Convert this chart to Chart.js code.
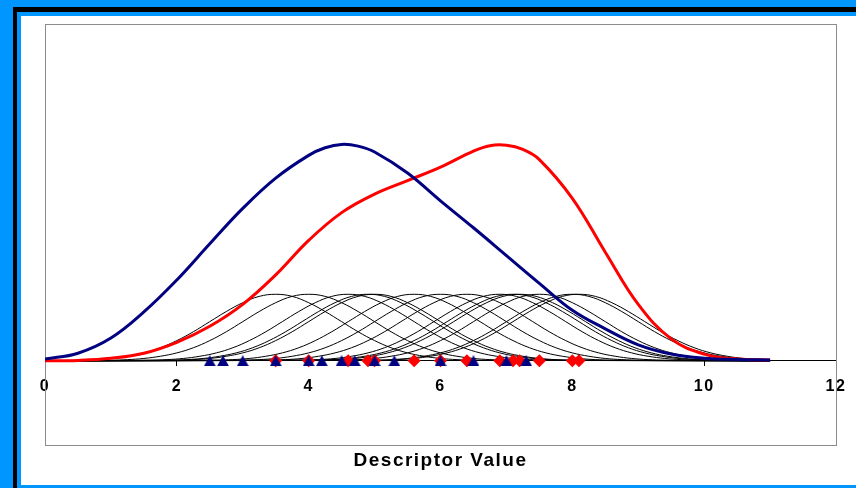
<!DOCTYPE html>
<html>
<head>
<meta charset="utf-8">
<script src="https://cdn.jsdelivr.net/npm/chart.js@4/dist/chart.umd.min.js"></script>
<style>
  html, body { margin: 0; padding: 0; }
  body { width: 856px; height: 488px; overflow: hidden; position: relative; background: #0096FF; }
  .edge  { position: absolute; left: 13px; top: 7px;  width: 1000px; height: 1000px; background: #000; }
  .band  { position: absolute; left: 17px; top: 12px; width: 1000px; height: 1000px; background: #0096FF; }
  .sheet { position: absolute; left: 21px; top: 16px; width: 835px; height: 469px; background: #fff; }
  canvas { display: block; }
</style>
</head>
<body>
<div class="edge"></div>
<div class="band"></div>
<div class="sheet"><canvas id="kde" width="835" height="469"></canvas></div>
<script>
// Summed density curves (x positions and heights)
const blueX       = [0, 0.5, 1, 1.5, 2, 2.5, 3, 3.5, 4, 4.25, 4.5, 4.75, 5, 5.5, 6, 6.5, 7, 7.5, 8, 8.5, 9, 9.5, 10, 10.5, 11];
const blueDensity = [0.02, 0.09, 0.27, 0.58, 0.96, 1.39, 1.81, 2.17, 2.44, 2.53, 2.57, 2.55, 2.48, 2.23, 1.90, 1.58, 1.25, 0.92, 0.60, 0.38, 0.19, 0.08, 0.03, 0.015, 0.01];
const redX        = [0, 0.5, 1, 1.5, 2, 2.5, 3, 3.5, 4, 4.5, 5, 5.5, 6, 6.5, 6.75, 7, 7.25, 7.5, 8, 8.5, 9, 9.5, 10, 10.5, 11];
const redDensity  = [0.00, 0.005, 0.03, 0.09, 0.22, 0.41, 0.67, 1.02, 1.43, 1.76, 1.98, 2.14, 2.30, 2.49, 2.555, 2.56, 2.51, 2.39, 1.93, 1.29, 0.67, 0.26, 0.08, 0.02, 0.01];

// Observed descriptor values
const blueValues = [2.5, 2.7, 3.0, 3.5, 4.0, 4.2, 4.5, 4.7, 5.0, 5.3, 6.0, 6.5, 7.0, 7.3];
const redValues  = [3.5, 4.0, 4.6, 4.9, 5.0, 5.6, 6.0, 6.4, 6.9, 7.1, 7.2, 7.5, 8.0, 8.1];

// Height of one kernel bump at a distance from its centre
const kernelOffsets = [0, 0.25, 0.5, 0.75, 1, 1.25, 1.5, 1.75, 2, 2.25, 2.5, 2.75, 3];
const kernelHeights = [0.79, 0.765, 0.69, 0.585, 0.465, 0.345, 0.24, 0.155, 0.094, 0.054, 0.028, 0.014, 0.007];

const xTickValues = [0, 2, 4, 6, 8, 10, 12];
const xTitle = 'Descriptor Value';

const X_MIN = 0, X_MAX = 12, CURVE_END = 11;

function kernelAt(centre) {
  const pts = [];
  for (let i = kernelOffsets.length - 1; i > 0; i--) pts.push({ x: centre - kernelOffsets[i], y: kernelHeights[i] });
  for (let i = 0; i < kernelOffsets.length; i++) pts.push({ x: centre + kernelOffsets[i], y: kernelHeights[i] });
  const inside = pts.filter(p => p.x >= 0 && p.x <= CURVE_END);
  if (inside[0].x > 0) inside.unshift({ x: 0, y: 0 });
  if (inside[inside.length - 1].x < CURVE_END) inside.push({ x: CURVE_END, y: 0 });
  return inside;
}

// Triangle marker whose bounding box is centred on the point
function triangleMarker(w, h, color) {
  const c = document.createElement('canvas');
  c.width = w; c.height = h;
  const g = c.getContext('2d');
  g.fillStyle = color;
  g.beginPath();
  g.moveTo(w / 2, 0);
  g.lineTo(w, h);
  g.lineTo(0, h);
  g.closePath();
  g.fill();
  return c;
}

const kernelSets = redValues.map(c => ({
  data: kernelAt(c),
  borderColor: '#000',
  borderWidth: 1,
  pointRadius: 0,
  tension: 0.4,
  order: 6
}));

// Grey frame round the plot area
const plotFrame = {
  id: 'plotFrame',
  beforeDatasetsDraw(chart) {
    const { ctx, chartArea: a } = chart;
    ctx.save();
    ctx.strokeStyle = '#8c8c8c';
    ctx.lineWidth = 1;
    ctx.strokeRect(Math.round(a.left) + 0.5, Math.round(a.top) + 0.5,
                   Math.round(a.right - a.left), Math.round(a.bottom - a.top));
    ctx.restore();
  }
};

// Slightly wider lettering for the axis labels and the axis title
const wideText = {
  id: 'wideText',
  beforeDraw(chart) {
    if ('letterSpacing' in chart.ctx) chart.ctx.letterSpacing = '1.5px';
  },
  beforeDatasetsDraw(chart) {
    if ('letterSpacing' in chart.ctx) chart.ctx.letterSpacing = '0px';
  }
};

new Chart(document.getElementById('kde'), {
  type: 'line',
  data: {
    datasets: [
      {
        label: 'blue markers',
        data: blueValues.map(v => ({ x: v, y: 0 })),
        pointStyle: triangleMarker(12, 11, '#000080'),
        pointRadius: 6,
        showLine: false,
        order: 1
      },
      {
        label: 'red markers',
        data: redValues.map(v => ({ x: v, y: 0 })),
        pointStyle: 'rectRot',
        pointRadius: 6.5,
        backgroundColor: '#FF0000',
        borderColor: '#FF0000',
        borderWidth: 0,
        showLine: false,
        order: 2
      },
      {
        label: 'blue density',
        data: blueX.map((x, i) => ({ x, y: blueDensity[i] })),
        borderColor: '#000080',
        borderWidth: 3,
        pointRadius: 0,
        tension: 0.4,
        order: 3
      },
      {
        label: 'red density',
        data: redX.map((x, i) => ({ x, y: redDensity[i] })),
        borderColor: '#FF0000',
        borderWidth: 3,
        pointRadius: 0,
        tension: 0.4,
        order: 4
      },
      ...kernelSets
    ]
  },
  options: {
    responsive: false,
    animation: false,
    devicePixelRatio: 1,
    layout: { padding: { left: 24, top: 8, right: 20, bottom: 0 } },
    plugins: {
      legend: { display: false },
      tooltip: { enabled: false },
      title: {
        display: true,
        position: 'bottom',
        text: xTitle,
        color: '#000',
        font: { family: 'Liberation Sans', size: 19, weight: 'bold' },
        padding: { top: 4.6, bottom: 12.6 }
      }
    },
    scales: {
      x: {
        type: 'linear',
        position: { y: 0 },
        min: X_MIN,
        max: X_MAX,
        afterBuildTicks(scale) { scale.ticks = xTickValues.map(v => ({ value: v })); },
        ticks: {
          color: '#000',
          padding: 11,
          maxRotation: 0,
          autoSkip: false,
          font: { family: 'Liberation Sans', size: 16, weight: 'bold' }
        },
        grid: { drawOnChartArea: false, drawTicks: true, tickLength: 5, tickColor: '#000', tickWidth: 1 },
        border: { display: true, color: '#000', width: 1 }
      },
      y: {
        type: 'linear',
        min: -1,
        max: 4,
        display: false
      }
    }
  },
  plugins: [plotFrame, wideText]
});
</script>
</body>
</html>
